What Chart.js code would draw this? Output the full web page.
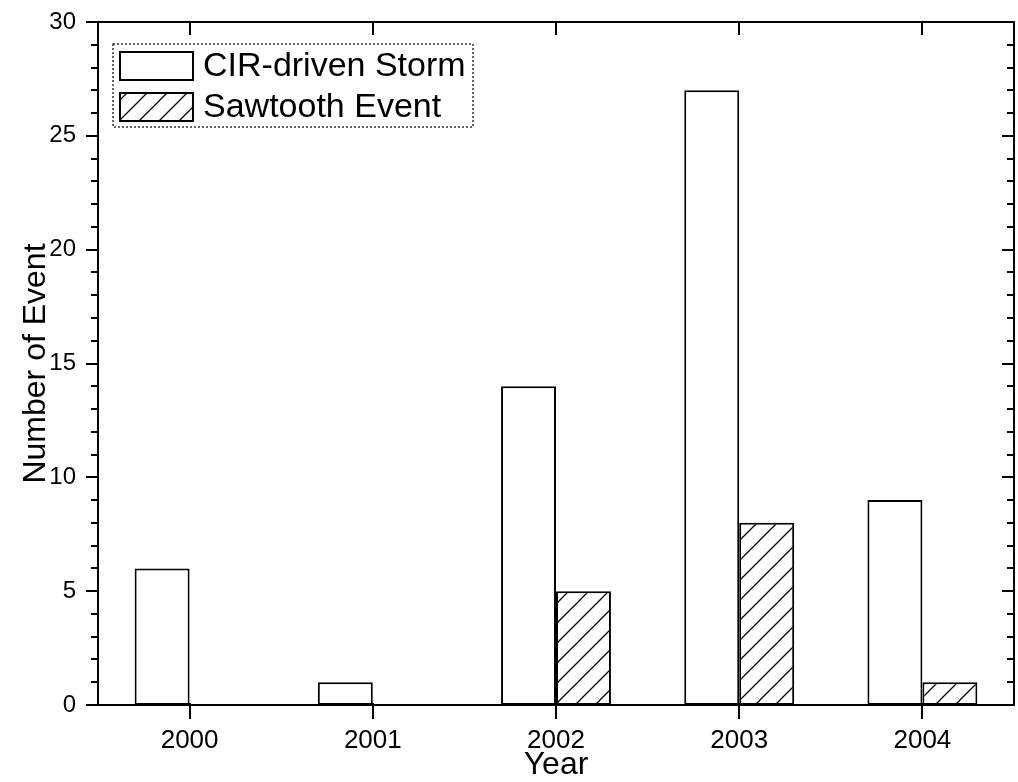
<!DOCTYPE html>
<html>
<head>
<meta charset="utf-8">
<title>Number of Event per Year</title>
<script src="https://cdn.jsdelivr.net/npm/chart.js@4.4.1/dist/chart.umd.min.js"></script>
<style>
  html, body { margin: 0; padding: 0; background: #fff; }
  canvas { display: block; }
</style>
</head>
<body>
<canvas id="barChart" width="1018" height="782"></canvas>
<script>
// data
const years = ["2000", "2001", "2002", "2003", "2004"];
const cirStorms = [6, 1, 14, 27, 9];
const sawtoothEvents = [0, 0, 5, 8, 1];
const yTicks = [0, 5, 10, 15, 20, 25, 30];
const yMinorStep = 1;

const seriesNames = ["CIR-driven Storm", "Sawtooth Event"];

Chart.defaults.font.family = "Arial, 'Liberation Sans', sans-serif";
Chart.defaults.color = "#000";

// diagonal hatch used for the sawtooth bars
function makeHatch() {
  const tile = document.createElement("canvas");
  tile.width = 20;
  tile.height = 20;
  const t = tile.getContext("2d");
  t.fillStyle = "#fff";
  t.fillRect(0, 0, 20, 20);
  t.strokeStyle = "#000";
  t.lineWidth = 1.3;
  t.beginPath();
  t.moveTo(-2, 22); t.lineTo(22, -2);
  t.moveTo(-2, 2); t.lineTo(2, -2);
  t.moveTo(18, 22); t.lineTo(22, 18);
  t.stroke();
  return t.createPattern(tile, "repeat");
}
const hatch = makeHatch();

// frame, inward/outward ticks and the boxed legend
const framePlugin = {
  id: "framePlugin",
  afterDraw(chart) {
    const { ctx, chartArea: a, scales: { x, y } } = chart;
    ctx.save();
    ctx.strokeStyle = "#000";
    ctx.lineWidth = 2;
    ctx.strokeRect(a.left, a.top, a.right - a.left, a.bottom - a.top);

    ctx.beginPath();
    const yMax = yTicks[yTicks.length - 1];
    for (let v = yTicks[0]; v <= yMax; v += yMinorStep) {
      const py = Math.round(y.getPixelForValue(v));
      const len = yTicks.includes(v) ? 12 : 7;
      ctx.moveTo(a.left - len, py); ctx.lineTo(a.left, py);
      ctx.moveTo(a.right, py); ctx.lineTo(a.right - len, py);
    }
    years.forEach((yr, i) => {
      const px = Math.round(x.getPixelForValue(i));
      ctx.moveTo(px, a.bottom - 2); ctx.lineTo(px, a.bottom + 14);
      ctx.moveTo(px, a.top); ctx.lineTo(px, a.top + 13);
    });
    ctx.stroke();

    // legend
    const lx = a.left + 15, ly = a.top + 22, lw = 360, lh = 83;
    ctx.lineWidth = 1.5;
    ctx.setLineDash([2, 2]);
    ctx.strokeStyle = "#333";
    ctx.strokeRect(lx, ly, lw, lh);
    ctx.setLineDash([]);

    ctx.font = "34px Arial, 'Liberation Sans', sans-serif";
    ctx.textBaseline = "middle";
    ctx.fillStyle = "#000";
    chart.data.datasets.forEach((ds, i) => {
      const sy = ly + 8 + i * 41;
      ctx.fillStyle = ds.backgroundColor;
      ctx.fillRect(lx + 7, sy, 73, 28);
      ctx.strokeStyle = "#000";
      ctx.lineWidth = 2;
      ctx.strokeRect(lx + 7, sy, 73, 28);
      ctx.fillStyle = "#000";
      ctx.fillText(ds.label, lx + 90, sy + 15);
    });
    ctx.restore();
  }
};

const ctx = document.getElementById("barChart").getContext("2d");

new Chart(ctx, {
  type: "bar",
  data: {
    labels: years,
    datasets: [
      {
        label: seriesNames[0],
        data: cirStorms,
        backgroundColor: "#fff",
        borderColor: "#000",
        borderWidth: 2,
        borderSkipped: false,
        categoryPercentage: 0.6,
        barPercentage: 1.0,
      },
      {
        label: seriesNames[1],
        data: sawtoothEvents,
        backgroundColor: hatch,
        borderColor: "#000",
        borderWidth: 2,
        borderSkipped: false,
        categoryPercentage: 0.6,
        barPercentage: 1.0,
      },
    ],
  },
  options: {
    responsive: false,
    animation: false,
    layout: { padding: { top: 22, right: 4, left: 0, bottom: 0 } },
    plugins: {
      legend: { display: false },
      tooltip: { enabled: false },
    },
    scales: {
      x: {
        grid: { display: false, drawTicks: false },
        border: { display: false },
        ticks: { font: { size: 26 }, padding: 20, maxRotation: 0 },
        title: {
          display: true,
          text: "Year",
          font: { size: 32, lineHeight: 1 },
          padding: { top: 0, bottom: 1 },
        },
        afterFit: (s) => { s.height = 77; s.paddingLeft = 0; s.paddingRight = 0; },
      },
      y: {
        min: 0,
        max: 30,
        grid: { display: false, drawTicks: false },
        border: { display: false },
        ticks: { font: { size: 24 }, padding: 22 },
        afterBuildTicks: (s) => { s.ticks = yTicks.map((v) => ({ value: v })); },
        title: {
          display: true,
          text: "Number of Event",
          font: { size: 32, lineHeight: 1 },
          padding: { top: 20, bottom: 0 },
        },
        afterFit: (s) => { s.width = 98; s.paddingTop = 0; s.paddingBottom = 0; },
      },
    },
  },
  plugins: [framePlugin],
});
</script>
</body>
</html>
